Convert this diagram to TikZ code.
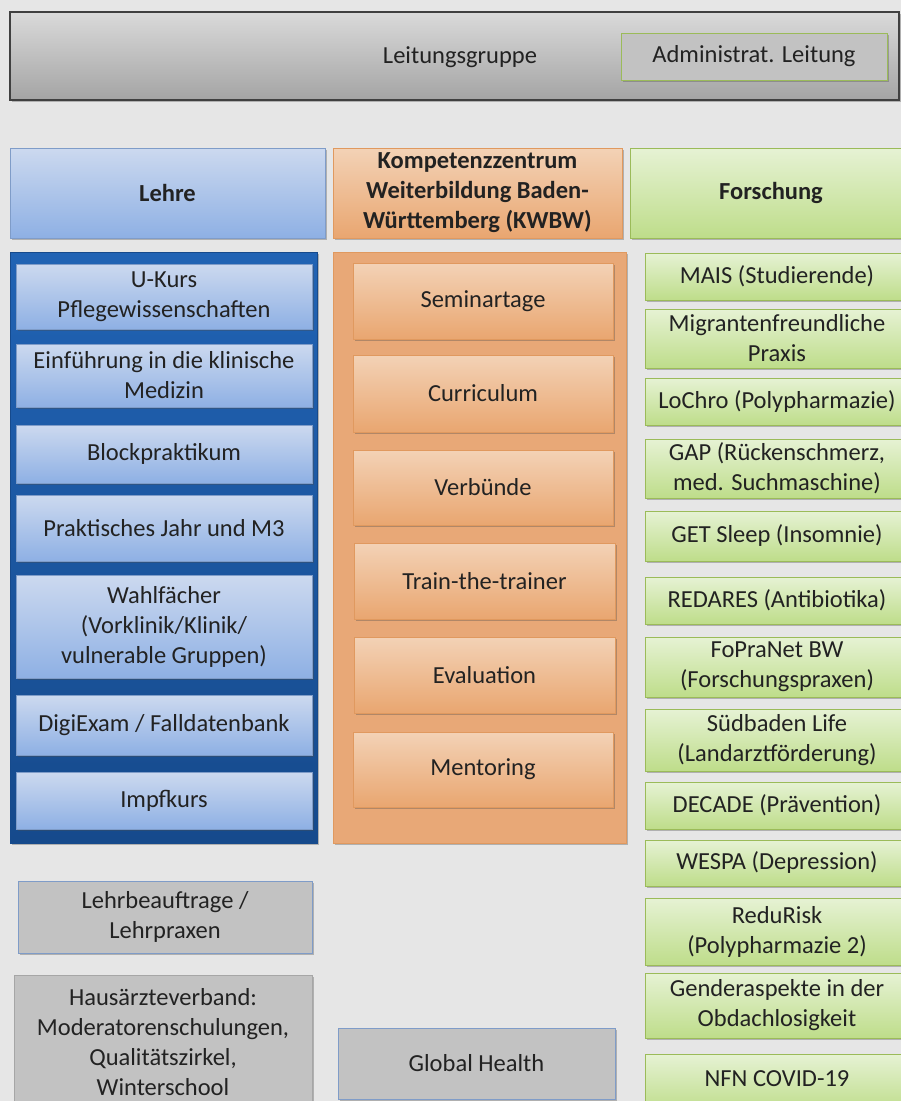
\documentclass[tikz,border=0pt]{standalone}
\usepackage{fontspec}
\setmainfont{Carlito}
\usetikzlibrary{shadows}
\definecolor{bgc}{HTML}{E6E6E6}
\definecolor{txt}{HTML}{222222}
\definecolor{grayT}{HTML}{DADADA}
\definecolor{grayB}{HTML}{A4A4A4}
\definecolor{boxgray}{HTML}{C2C2C2}
\definecolor{blueT}{HTML}{CCD9EF}
\definecolor{blueB}{HTML}{8EB0E4}
\definecolor{blueEdge}{HTML}{7F9CC8}
\definecolor{navyT}{HTML}{2163B4}
\definecolor{navyB}{HTML}{164A8C}
\definecolor{orT}{HTML}{F3D2B6}
\definecolor{orB}{HTML}{E9A670}
\definecolor{orEdge}{HTML}{E0995F}
\definecolor{orFill}{HTML}{E8A877}
\definecolor{grT}{HTML}{E6F2D4}
\definecolor{grB}{HTML}{BEDD8A}
\definecolor{grEdge}{HTML}{9BBB59}
\newcommand\myfs{\fontsize{24.5}{30}\selectfont}
\tikzset{
  base/.style={rectangle, inner sep=0pt, align=center, text=txt, font=\myfs},
  shad/.style={drop shadow={shadow xshift=1.5pt, shadow yshift=-2pt, opacity=0.35, fill=black!70}},
  topbar/.style={base, shad, top color=grayT, bottom color=grayB, draw=black!75, line width=1.2pt},
  adminbox/.style={base, shad, fill=boxgray, draw=grEdge, line width=1pt},
  lehrehead/.style={base, shad, top color=blueT, bottom color=blueB, draw=blueEdge, line width=0.8pt, font=\myfs\bfseries},
  kwbwhead/.style={base, shad, top color=orT, bottom color=orB, draw=orEdge, line width=0.8pt, font=\myfs\bfseries},
  forhead/.style={base, shad, top color=grT, bottom color=grB, draw=grEdge, line width=0.8pt, font=\myfs\bfseries},
  navycont/.style={rectangle, shad, top color=navyT, bottom color=navyB, draw=navyB, line width=0.8pt},
  orcont/.style={rectangle, shad, fill=orFill, draw=orEdge, line width=0.8pt},
  lehrebox/.style={base, shad, top color=blueT, bottom color=blueB, draw=blueEdge, line width=0.6pt},
  kwbwbox/.style={base, shad, top color=orT, bottom color=orB, draw=orEdge, line width=0.6pt},
  forbox/.style={base, shad, top color=grT, bottom color=grB, draw=grEdge, line width=0.8pt},
  graybluebox/.style={base, shad, fill=boxgray, draw=blueEdge, line width=1pt},
  graybox/.style={base, shad, fill=boxgray, draw=black!35, line width=1pt},
}
\newcommand\bx[7]{\node[#2, minimum width={#5-#3}, minimum height={#6-#4}] (#1) at ({(#3+#5)/2},{(#4+#6)/2}) {#7};}
\begin{document}
\begin{tikzpicture}[x=1pt,y=-1pt]
\useasboundingbox (0,0) rectangle (901,1101);
\fill[bgc] (0,0) rectangle (901,1101);
\clip (0,0) rectangle (901,1101);
% top
\bx{top}{topbar}{10}{12}{899}{100}{}
\node[base] (leitung) at (460,57) {Leitungsgruppe};
\bx{admin}{adminbox}{621}{33}{887}{80}{Administrat. Leitung}
% headers
\bx{lehre}{lehrehead}{10}{148}{325}{238}{Lehre}
\bx{kwbw}{kwbwhead}{333}{148}{622}{238}{Kompetenzzentrum\\Weiterbildung Baden-\\Württemberg (KWBW)}
\bx{forschung}{forhead}{630}{148}{912}{238}{Forschung}
% containers
\bx{lehrecont}{navycont}{10}{252}{317}{843}{}
\bx{kwbwcont}{orcont}{333}{252}{626}{843}{}
% Lehre boxes
\bx{l1}{lehrebox}{16}{264}{312}{329}{U-Kurs\\Pflegewissenschaften}
\bx{l2}{lehrebox}{16}{344}{312}{407}{Einführung in die klinische\\Medizin}
\bx{l3}{lehrebox}{16}{425}{312}{483}{Blockpraktikum}
\bx{l4}{lehrebox}{16}{495}{312}{561}{Praktisches Jahr und M3}
\bx{l5}{lehrebox}{16}{575}{312}{678}{Wahlfächer\\(Vorklinik/Klinik/\\vulnerable Gruppen)}
\bx{l6}{lehrebox}{16}{695}{312}{755}{DigiExam / Falldatenbank}
\bx{l7}{lehrebox}{16}{772}{312}{829}{Impfkurs}
% KWBW boxes
\bx{k1}{kwbwbox}{353}{263}{613}{339}{Seminartage}
\bx{k2}{kwbwbox}{353}{355}{613}{432}{Curriculum}
\bx{k3}{kwbwbox}{353}{450}{613}{525}{Verbünde}
\bx{k4}{kwbwbox}{354}{543}{615}{619}{Train-the-trainer}
\bx{k5}{kwbwbox}{354}{637}{615}{713}{Evaluation}
\bx{k6}{kwbwbox}{353}{732}{613}{807}{Mentoring}
% Forschung boxes
\bx{f1}{forbox}{645}{253}{909}{300}{MAIS (Studierende)}
\bx{f2}{forbox}{645}{309}{909}{368}{Migrantenfreundliche\\Praxis}
\bx{f3}{forbox}{645}{378}{909}{425}{LoChro (Polypharmazie)}
\bx{f4}{forbox}{645}{439}{909}{498}{GAP (Rückenschmerz,\\med. Suchmaschine)}
\bx{f5}{forbox}{645}{511}{909}{561}{GET Sleep (Insomnie)}
\bx{f6}{forbox}{645}{577}{909}{624}{REDARES (Antibiotika)}
\bx{f7}{forbox}{645}{637}{909}{697}{FoPraNet BW\\(Forschungspraxen)}
\bx{f8}{forbox}{645}{709}{909}{771}{Südbaden Life\\(Landarztförderung)}
\bx{f9}{forbox}{645}{782}{909}{829}{DECADE (Prävention)}
\bx{f10}{forbox}{645}{840}{909}{886}{WESPA (Depression)}
\bx{f11}{forbox}{645}{898}{909}{965}{ReduRisk\\(Polypharmazie 2)}
\bx{f12}{forbox}{645}{973}{909}{1038}{Genderaspekte in der\\Obdachlosigkeit}
\bx{f13}{forbox}{645}{1054}{909}{1112}{}
\node[base] (nfn) at (777,1079) {NFN COVID-19};
% bottom gray boxes
\bx{lb}{graybluebox}{18}{881}{312}{953}{Lehrbeauftrage /\\Lehrpraxen}
\bx{ha}{graybox}{14}{975}{312}{1115}{}
\node[base] (hatext) at (163,1042) {Hausärzteverband:\\Moderatorenschulungen,\\Qualitätszirkel,\\Winterschool};
\bx{gh}{graybluebox}{338}{1028}{615}{1099}{Global Health}
\end{tikzpicture}
\end{document}
